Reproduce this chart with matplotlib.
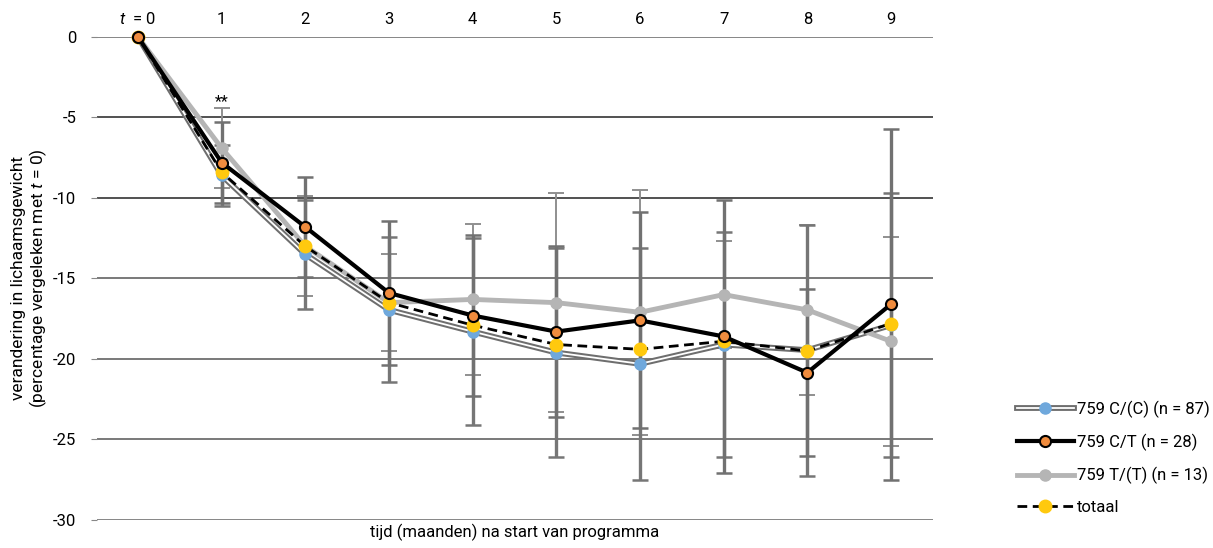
import matplotlib
matplotlib.use("Agg")
import matplotlib.pyplot as plt
import matplotlib.patheffects as pe
from matplotlib.legend_handler import HandlerTuple

plt.rcParams['font.family'] = ['Roboto', 'DejaVu Sans']
plt.rcParams['mathtext.fontset'] = 'custom'
plt.rcParams['mathtext.it'] = 'Roboto:italic'
plt.rcParams['mathtext.rm'] = 'Roboto'

# ---- data ----
months = [0, 1, 2, 3, 4, 5, 6, 7, 8, 9]
xlabels = ['$t$  = 0', '1', '2', '3', '4', '5', '6', '7', '8', '9']
cc_mean = [0, -8.6, -13.5, -16.95, -18.3, -19.6, -20.3, -19.1, -19.45, -17.9]
cc_sd = [0, 1.9, 3.4, 4.5, 5.8, 6.5, 7.2, 7.0, 7.8, 8.2]
ct_mean = [0, -7.8, -11.8, -15.9, -17.3, -18.3, -17.6, -18.6, -20.85, -16.6]
ct_sd = [0, 2.5, 3.1, 4.5, 5.0, 5.3, 6.7, 8.5, 5.2, 10.9]
tt_mean = [0, -6.9, -13.0, -16.5, -16.3, -16.5, -17.1, -16.0, -16.95, -18.9]
tt_sd = [0, 2.5, 3.1, 3.0, 4.7, 6.8, 7.6, 3.3, 5.3, 6.5]
tot_mean = [0, -8.4, -13.0, -16.5, -17.9, -19.1, -19.4, -18.9, -19.5, -17.8]
labels = ['759 C/(C) (n = 87)', '759 C/T (n = 28)', '759 T/(T) (n = 13)', 'totaal']
yticks = [0, -5, -10, -15, -20, -25, -30]

fig = plt.figure(figsize=(12.13, 5.48), dpi=100)
ax = fig.add_axes([0.080, 0.0511, 0.689, 0.8814])
ax.set_xlim(-0.49, 9.5)
ax.set_ylim(-30, 0)

grid_cols = ['#666666', '#222222', '#222222', '#555555', '#555555', '#555555', '#666666']
for v, c in zip(yticks, grid_cols):
    ax.axhline(v, color=c, lw=1.1, zorder=0)

# error bars
ax.errorbar(months[1:], tt_mean[1:], yerr=tt_sd[1:], fmt='none', ecolor='#8f8f8f',
            elinewidth=1.4, capsize=5.5, capthick=1.4, zorder=1)
ax.errorbar(months[1:], cc_mean[1:], yerr=cc_sd[1:], fmt='none', ecolor='#767676',
            elinewidth=2.4, capsize=5.5, capthick=1.8, zorder=1)
ax.errorbar(months[1:], ct_mean[1:], yerr=ct_sd[1:], fmt='none', ecolor='#717171',
            elinewidth=2.4, capsize=5.5, capthick=1.8, zorder=1)

# C/C : double line
l_cc, = ax.plot(months, cc_mean, color='white', lw=1.3, zorder=2, clip_on=False,
                path_effects=[pe.Stroke(linewidth=4.2, foreground='#6e6e6e'), pe.Normal()])
m_cc, = ax.plot(months, cc_mean, ls='none', marker='o', ms=8, color='#6fa8dc',
                mec='#6fa8dc', zorder=3, clip_on=False)
# T/T
l_tt, = ax.plot(months, tt_mean, color='#b5b5b5', lw=3.5, zorder=4, clip_on=False)
m_tt, = ax.plot(months, tt_mean, ls='none', marker='o', ms=8, color='#b5b5b5', zorder=4,
                clip_on=False)
# totaal
l_tot, = ax.plot(months, tot_mean, color='black', lw=2, ls=(0, (3.5, 2)), zorder=5, clip_on=False)
m_tot, = ax.plot(months, tot_mean, ls='none', marker='o', ms=9, color='#ffc90e',
                 mec='#ffc90e', zorder=6, clip_on=False)
# C/T
l_ct, = ax.plot(months, ct_mean, color='black', lw=3, zorder=7, clip_on=False)
m_ct, = ax.plot(months, ct_mean, ls='none', marker='o', ms=8, color='#f08c3e', mec='black',
                mew=1.5, zorder=8, clip_on=False)

ax.text(1, -4.0, '**', ha='center', va='center', fontsize=11.5)

ax.set_xticks(months)
ax.set_xticklabels(xlabels, fontsize=12)
ax.xaxis.tick_top()
ax.tick_params(axis='x', length=0, pad=7)
ax.set_yticks(yticks)
ax.set_yticklabels([str(v) if v == 0 else '-' + str(-v) for v in yticks], fontsize=12)
ax.tick_params(axis='y', length=4, width=0.8, color='#888888', pad=11)
for s in ax.spines.values():
    s.set_visible(False)

ax.set_xlabel('tijd (maanden) na start van programma', fontsize=12)
ax.xaxis.set_label_position('bottom')
ax.xaxis.labelpad = 3
ax.set_ylabel('verandering in lichaamsgewicht\n(percentage vergeleken met $t$ = 0)',
              fontsize=12.5, linespacing=1.05)
ax.yaxis.labelpad = 3

# legend
handles = [(l_cc, m_cc), (l_ct, m_ct), (l_tt, m_tt), (l_tot, m_tot)]
fig.legend(handles=handles, labels=labels, handler_map={tuple: HandlerTuple(ndivide=1)},
           loc='upper left', bbox_to_anchor=(0.826, 0.296), frameon=False, fontsize=12,
           handlelength=3.4, handletextpad=0.2, labelspacing=0.95)

fig.savefig('out.png', dpi=100)
